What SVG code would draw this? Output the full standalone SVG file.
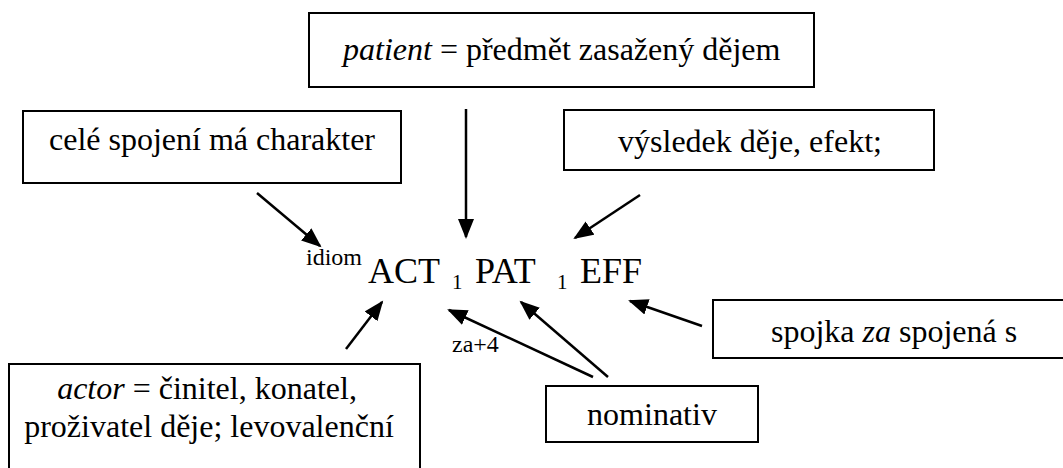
<svg xmlns="http://www.w3.org/2000/svg" width="1063" height="468" viewBox="0 0 1063 468" font-family="'Liberation Serif', 'DejaVu Serif', serif">
<style>
.box{fill:#fff;stroke:#000;stroke-width:2}
text{font-family:'Liberation Serif','DejaVu Serif',serif;fill:#000}
.t{font-size:32px}
.f{font-size:36px}
.s{font-size:24px}
.sub{font-size:21px}
.c{stroke:#000;stroke-width:2.5;fill:none;marker-end:url(#ah)}
</style>
<defs>
<marker id="ah" markerUnits="userSpaceOnUse" markerWidth="22" markerHeight="18" refX="18" refY="8" orient="auto">
<path d="M0,0 L20,8 L0,16 z" fill="#000"/>
</marker>
</defs>
<rect width="1063" height="468" fill="#fff"/>
<g id="patient">
<rect class="box" x="309" y="13" width="505" height="74"/>
<text class="t" x="343" y="60"><tspan font-style="italic">patient</tspan> = předmět zasažený dějem</text>
</g>
<g id="idiom-box">
<rect class="box" x="23" y="111" width="378" height="72"/>
<text class="t" x="212" y="150" text-anchor="middle">celé spojení má charakter</text>
</g>
<g id="effekt">
<rect class="box" x="564" y="110" width="370" height="60"/>
<text class="t" x="750" y="152" text-anchor="middle">výsledek děje, efekt;</text>
</g>
<g id="formula">
<text class="s" x="306" y="265">idiom</text>
<text class="f" x="368" y="283">ACT</text>
<text class="sub" x="452" y="289">1</text>
<text class="f" x="475" y="283">PAT</text>
<text class="sub" x="557" y="289">1</text>
<text class="f" x="580" y="283">EFF</text>
<text class="s" x="452" y="352">za+4</text>
</g>
<g id="spojka">
<rect class="box" x="713" y="300" width="370" height="58"/>
<text class="t" x="771" y="342">spojka <tspan font-style="italic">za</tspan> spojená s</text>
</g>
<g id="nominativ">
<rect class="box" x="546" y="386" width="212" height="56"/>
<text class="t" x="652" y="425" text-anchor="middle">nominativ</text>
</g>
<g id="actor">
<rect class="box" x="9" y="364" width="411" height="120"/>
<text class="t" x="207" y="399" text-anchor="middle"><tspan font-style="italic">actor</tspan> = činitel, konatel,</text>
<text class="t" x="209" y="437" text-anchor="middle">proživatel děje; levovalenční</text>
</g>
<g id="connectors">
<line class="c" x1="466" y1="109" x2="466" y2="237"/>
<line class="c" x1="257" y1="193" x2="320" y2="246"/>
<line class="c" x1="640" y1="195" x2="575" y2="238"/>
<line class="c" x1="346" y1="349" x2="382" y2="302"/>
<line class="c" x1="593" y1="377" x2="449" y2="310"/>
<line class="c" x1="608" y1="377" x2="521" y2="302"/>
<line class="c" x1="702" y1="326" x2="630" y2="301"/>
</g>
</svg>
